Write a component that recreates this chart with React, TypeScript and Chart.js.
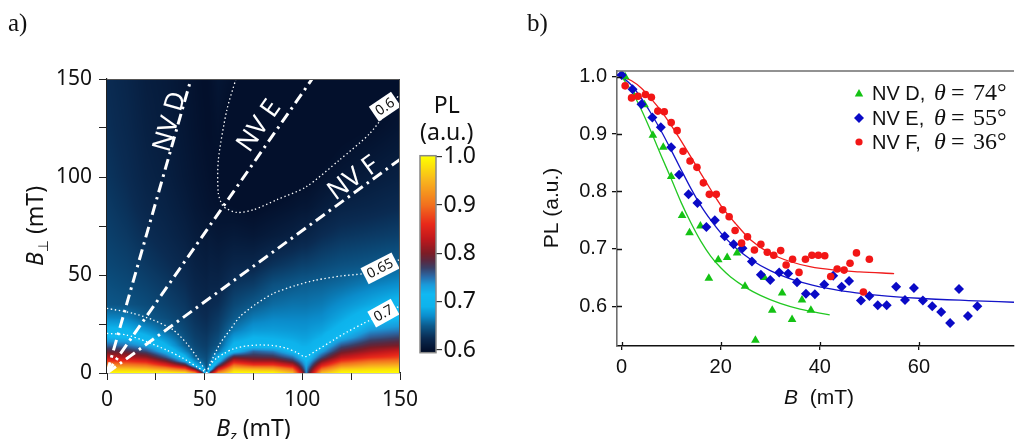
import React, { useEffect, useRef } from "react";
import { Chart, registerables } from "chart.js";

Chart.register(...registerables);

// ================= Panel a : PL map =================
const bzNodes = [0, 10, 20, 30, 40, 45, 49, 51, 53, 57, 65, 75, 85, 95, 100, 102, 104, 110, 120, 135, 150];
const bperpNodes = [0, 2, 4, 6, 8, 11, 14, 18, 22, 28, 35, 45, 55, 70, 85, 100, 125, 150];
// one column per Bz node, values along B_perp nodes
const plByBz = [
  [1.0, 0.965, 0.915, 0.87, 0.83, 0.79, 0.755, 0.72, 0.695, 0.668, 0.648, 0.644, 0.64, 0.636, 0.633, 0.63, 0.627, 0.625],
  [1.0, 0.962, 0.912, 0.865, 0.825, 0.785, 0.75, 0.716, 0.692, 0.666, 0.646, 0.641, 0.637, 0.632, 0.628, 0.625, 0.622, 0.62],
  [1.0, 0.955, 0.9, 0.85, 0.81, 0.765, 0.73, 0.697, 0.674, 0.65, 0.642, 0.637, 0.632, 0.626, 0.621, 0.618, 0.615, 0.613],
  [1.0, 0.93, 0.855, 0.8, 0.76, 0.718, 0.693, 0.672, 0.655, 0.643, 0.637, 0.632, 0.627, 0.621, 0.617, 0.614, 0.611, 0.61],
  [0.99, 0.885, 0.79, 0.725, 0.695, 0.668, 0.652, 0.645, 0.64, 0.635, 0.631, 0.626, 0.621, 0.615, 0.611, 0.608, 0.606, 0.605],
  [0.93, 0.79, 0.695, 0.672, 0.652, 0.645, 0.64, 0.636, 0.633, 0.629, 0.625, 0.62, 0.616, 0.611, 0.607, 0.605, 0.603, 0.602],
  [0.78, 0.69, 0.665, 0.652, 0.645, 0.64, 0.636, 0.633, 0.63, 0.626, 0.622, 0.618, 0.614, 0.609, 0.605, 0.603, 0.601, 0.6],
  [0.655, 0.649, 0.646, 0.644, 0.642, 0.638, 0.635, 0.632, 0.629, 0.625, 0.621, 0.617, 0.613, 0.608, 0.604, 0.602, 0.6, 0.6],
  [0.8, 0.705, 0.675, 0.66, 0.652, 0.645, 0.64, 0.636, 0.632, 0.628, 0.624, 0.619, 0.615, 0.609, 0.603, 0.601, 0.6, 0.601],
  [0.93, 0.84, 0.76, 0.715, 0.69, 0.66, 0.647, 0.642, 0.637, 0.632, 0.626, 0.619, 0.614, 0.607, 0.602, 0.598, 0.602, 0.605],
  [1.0, 0.96, 0.9, 0.84, 0.79, 0.712, 0.695, 0.678, 0.662, 0.649, 0.64, 0.63, 0.62, 0.609, 0.6, 0.595, 0.595, 0.6],
  [1.0, 0.95, 0.87, 0.815, 0.785, 0.755, 0.702, 0.69, 0.677, 0.663, 0.649, 0.634, 0.621, 0.607, 0.598, 0.591, 0.588, 0.59],
  [1.0, 0.945, 0.87, 0.815, 0.78, 0.745, 0.7, 0.688, 0.678, 0.668, 0.657, 0.645, 0.629, 0.611, 0.601, 0.593, 0.587, 0.587],
  [0.96, 0.9, 0.83, 0.78, 0.75, 0.71, 0.694, 0.684, 0.676, 0.668, 0.66, 0.649, 0.634, 0.615, 0.604, 0.596, 0.588, 0.587],
  [0.82, 0.78, 0.755, 0.735, 0.712, 0.697, 0.688, 0.681, 0.675, 0.668, 0.66, 0.651, 0.637, 0.618, 0.606, 0.598, 0.59, 0.588],
  [0.74, 0.735, 0.725, 0.715, 0.703, 0.696, 0.688, 0.681, 0.675, 0.668, 0.66, 0.651, 0.637, 0.618, 0.606, 0.598, 0.59, 0.588],
  [0.8, 0.775, 0.75, 0.73, 0.712, 0.699, 0.69, 0.683, 0.677, 0.669, 0.661, 0.652, 0.638, 0.62, 0.607, 0.599, 0.591, 0.589],
  [0.96, 0.9, 0.845, 0.8, 0.765, 0.73, 0.705, 0.69, 0.681, 0.671, 0.663, 0.653, 0.641, 0.625, 0.611, 0.602, 0.592, 0.589],
  [1.0, 0.965, 0.915, 0.87, 0.83, 0.79, 0.76, 0.72, 0.697, 0.684, 0.672, 0.657, 0.645, 0.63, 0.617, 0.606, 0.597, 0.592],
  [1.0, 0.975, 0.94, 0.9, 0.86, 0.82, 0.79, 0.76, 0.735, 0.705, 0.685, 0.665, 0.648, 0.633, 0.62, 0.611, 0.6, 0.595],
  [1.0, 0.98, 0.945, 0.91, 0.875, 0.84, 0.8, 0.77, 0.745, 0.715, 0.699, 0.672, 0.652, 0.636, 0.624, 0.615, 0.605, 0.598],
];
const axisTicksA = [0, 25, 50, 75, 100, 125, 150];
const axisLabelsA = ["0", "", "50", "", "100", "", "150"];
const colorbarTicks = [0.6, 0.7, 0.8, 0.9, 1.0];

// NV axis lines (B_z, B_perp) end points
const nvLineD = [[0, 0], [43, 150]];
const nvLineE = [[0, 0], [105, 150]];
const nvLineF = [[0, 0], [150, 109]];

// iso-PL contours
const contour06 = [[66, 150], [61.3, 134], [57, 108.7], [57, 91.7], [59.6, 85], [66.4, 81.9], [75, 83.3], [87, 88.4], [102, 95], [119, 108.7], [134.7, 122.4], [150, 142.5]];
const contour065Left = [[0, 33], [13.5, 30.4], [23.7, 27], [34, 21.9], [40.8, 15.1], [45.9, 8.3], [50.2, 1.5], [51, 0]];
const contour065Right = [[51, 0], [53, 5], [57.9, 15.1], [63, 22], [68, 28.7], [76, 35], [85, 40.5], [96, 44.5], [107, 47.4], [120, 49.5], [131, 50.7], [140, 53.3], [150, 58]];
const contour07Left = [[0, 20.2], [10, 19.4], [20.3, 16], [30.5, 11.7], [39, 7.5], [45.9, 3.2], [50.2, 0.7], [51, 0]];
const contour07Right = [[51, 0], [52.7, 4], [56, 7.5], [60, 10], [64.7, 12.3], [71.5, 13.8], [78.3, 14.3], [85, 14], [92, 12.6], [97, 10.5], [101.4, 8.3], [108, 12], [115.9, 16.8], [123, 21], [131.3, 25.3], [140, 29.5], [150, 34.2]];

const nvLabelText = ["NV D", "NV E", "NV F"];
const contourLabelText = ["0.6", "0.65", "0.7"];

// ================= Panel b : measured PL vs B =================
const xTicksB = [0, 20, 40, 60];
const yTicksB = [0.6, 0.7, 0.8, 0.9, 1.0];

const nvD_B = [0.7, 2.6, 4.6, 6.3, 8.4, 10.0, 12.2, 13.7, 15.9, 17.6, 19.5, 21.3, 23.3, 24.9, 27.0, 28.8, 30.4, 32.4, 34.4, 36.4, 38.2];
const nvD_PL = [1.0, 0.965, 0.951, 0.898, 0.877, 0.826, 0.758, 0.728, 0.74, 0.649, 0.681, 0.685, 0.693, 0.635, 0.541, 0.65, 0.593, 0.623, 0.577, 0.611, 0.593];

const nvE_B = [0, 2.2, 4.0, 6.2, 7.9, 10.0, 11.6, 13.5, 15.3, 17.1, 18.8, 20.8, 22.6, 24.4, 26.3, 28.1, 30.0, 31.8, 33.6, 35.4, 37.2, 39.0, 40.9, 42.7, 44.4, 45.9, 48.3, 50.0, 51.7, 53.5, 55.4, 57.2, 59.0, 60.8, 62.7, 64.5, 66.3, 68.1, 69.9, 71.8];
const nvE_PL = [1.003, 0.978, 0.952, 0.929, 0.912, 0.877, 0.829, 0.795, 0.78, 0.738, 0.75, 0.722, 0.708, 0.701, 0.678, 0.655, 0.646, 0.659, 0.657, 0.642, 0.622, 0.621, 0.638, 0.653, 0.634, 0.644, 0.61, 0.618, 0.602, 0.602, 0.634, 0.611, 0.632, 0.61, 0.6, 0.59, 0.571, 0.63, 0.583, 0.6];

const nvF_B = [0.7, 2.0, 3.3, 4.8, 6.0, 7.3, 8.6, 10.0, 11.2, 12.4, 13.8, 15.2, 16.5, 17.7, 19.1, 20.4, 21.7, 22.9, 24.2, 25.4, 26.8, 28.1, 29.4, 30.7, 32.1, 33.2, 34.5, 35.8, 37.1, 38.4, 39.7, 41.0, 42.2, 43.5, 44.9, 46.1, 47.4, 48.8, 50.0];
const nvF_PL = [0.984, 0.963, 0.966, 0.969, 0.964, 0.94, 0.939, 0.92, 0.906, 0.87, 0.853, 0.842, 0.815, 0.795, 0.795, 0.768, 0.756, 0.732, 0.71, 0.721, 0.698, 0.708, 0.694, 0.689, 0.697, 0.672, 0.682, 0.659, 0.682, 0.689, 0.689, 0.688, 0.652, 0.665, 0.663, 0.675, 0.693, 0.625, 0.682];

const fitD_B = [0, 2, 4, 6, 8, 10, 12, 14, 16, 18, 20, 22, 25, 28, 32, 36, 42];
const fitD_PL = [1.0, 0.975, 0.942, 0.903, 0.862, 0.822, 0.781, 0.745, 0.713, 0.687, 0.667, 0.651, 0.633, 0.619, 0.605, 0.595, 0.585];
const fitE_B = [0, 2, 4, 6, 8, 10, 12, 14, 16, 18, 20, 23, 26, 30, 35, 40, 46, 52, 60, 70, 79.2];
const fitE_PL = [1.0, 0.985, 0.962, 0.935, 0.905, 0.872, 0.838, 0.805, 0.775, 0.75, 0.728, 0.702, 0.682, 0.662, 0.645, 0.634, 0.625, 0.619, 0.614, 0.61, 0.607];
const fitF_B = [0, 2, 4, 6, 8, 10, 12, 14, 16, 18, 20, 23, 26, 30, 34, 38, 43, 48, 55];
const fitF_PL = [1.0, 0.993, 0.98, 0.961, 0.94, 0.915, 0.888, 0.86, 0.831, 0.803, 0.776, 0.744, 0.716, 0.692, 0.678, 0.669, 0.663, 0.66, 0.657];

const legendNames = ["NV D,", "NV E,", "NV F,"];
const legendAngles = ["74°", "55°", "36°"];

// ================= styling =================
const SANS_A = '"Noto Sans", "Open Sans", sans-serif';
const SANS_B = '"Liberation Sans", Arial, sans-serif';
const SERIF = '"Liberation Serif", "DejaVu Serif", serif';
const GREEN = "#14c214";
const BLUE = "#0a0ac6";
const RED = "#f21616";
const GREEN_L = "#22c822";
const BLUE_L = "#1414c8";
const RED_L = "#f01c1c";

const cmapStops: [number, string][] = [
  [0.6, "#03102c"],
  [0.625, "#0a2b52"],
  [0.65, "#0c5a8c"],
  [0.67, "#0b8ccb"],
  [0.69, "#0db3ec"],
  [0.715, "#10b9f2"],
  [0.735, "#1a9ada"],
  [0.752, "#2a6aa8"],
  [0.77, "#3a3f66"],
  [0.785, "#5a2840"],
  [0.8, "#7c1c26"],
  [0.83, "#c0181c"],
  [0.86, "#e8281a"],
  [0.9, "#f2701e"],
  [0.95, "#f8b41e"],
  [1.0, "#ffff00"],
];

function hex(h: string) {
  return [parseInt(h.slice(1, 3), 16), parseInt(h.slice(3, 5), 16), parseInt(h.slice(5, 7), 16)];
}
const stopRgb = cmapStops.map(([v, c]) => [v, hex(c)] as [number, number[]]);
function plRgb(v: number): number[] {
  if (v <= stopRgb[0][0]) return stopRgb[0][1];
  const n = stopRgb.length;
  if (v >= stopRgb[n - 1][0]) return stopRgb[n - 1][1];
  let i = 0;
  while (v > stopRgb[i + 1][0]) i++;
  const [v0, c0] = stopRgb[i];
  const [v1, c1] = stopRgb[i + 1];
  const t = (v - v0) / (v1 - v0);
  return [0, 1, 2].map((k) => Math.round(c0[k] + (c1[k] - c0[k]) * t));
}
function bracket(nodes: number[], v: number): [number, number] {
  const n = nodes.length;
  if (v <= nodes[0]) return [0, 0];
  if (v >= nodes[n - 1]) return [n - 2, 1];
  let i = 0;
  while (v > nodes[i + 1]) i++;
  return [i, (v - nodes[i]) / (nodes[i + 1] - nodes[i])];
}
function plAt(bz: number, bp: number) {
  const [i, tx] = bracket(bzNodes, bz);
  const [j, ty] = bracket(bperpNodes, bp);
  const a = plByBz[i][j], b = plByBz[i + 1][j], c = plByBz[i][j + 1], d = plByBz[i + 1][j + 1];
  return a * (1 - tx) * (1 - ty) + b * tx * (1 - ty) + c * (1 - tx) * ty + d * tx * ty;
}
const pts = (arr: number[][]) => arr.map(([x, y]) => ({ x, y }));
const zip = (xs: number[], ys: number[]) => xs.map((x, i) => ({ x, y: ys[i] }));

function drawRuns(ctx: CanvasRenderingContext2D, runs: { t: string; f: string; dy?: number }[], x: number, y: number) {
  let total = 0;
  for (const r of runs) { ctx.font = r.f; total += ctx.measureText(r.t).width; }
  let cx = x - total / 2;
  ctx.textAlign = "left";
  for (const r of runs) {
    ctx.font = r.f;
    ctx.fillText(r.t, cx, y + (r.dy || 0));
    cx += ctx.measureText(r.t).width;
  }
}

// ---------- panel a plugins ----------
const heatmapPlugin = {
  id: "heatmap",
  beforeDatasetsDraw(chart: any) {
    const { ctx, chartArea: a, scales } = chart;
    const xs = scales.x, ys = scales.y;
    const w = Math.round(a.right - a.left), h = Math.round(a.bottom - a.top);
    const off = document.createElement("canvas");
    off.width = w; off.height = h;
    const octx = off.getContext("2d")!;
    const img = octx.createImageData(w, h);
    const xv = Array.from({ length: w }, (_, px) => xs.getValueForPixel(a.left + px + 0.5));
    for (let py = 0; py < h; py++) {
      const yv = ys.getValueForPixel(a.top + py + 0.5);
      for (let px = 0; px < w; px++) {
        const c = plRgb(plAt(xv[px], yv));
        const k = (py * w + px) * 4;
        img.data[k] = c[0]; img.data[k + 1] = c[1]; img.data[k + 2] = c[2]; img.data[k + 3] = 255;
      }
    }
    octx.putImageData(img, 0, 0);
    ctx.drawImage(off, a.left, a.top);
  },
  afterDatasetsDraw(chart: any) {
    const { ctx, chartArea: a, scales } = chart;
    const xs = scales.x, ys = scales.y;
    // NV labels along the lines
    const nvPos = [[32.4, 128.2, -74], [78.0, 126.0, -55], [126.2, 99.2, -36]];
    ctx.save();
    ctx.fillStyle = "#ffffff";
    ctx.font = `26px ${SANS_A}`;
    ctx.textAlign = "center";
    ctx.textBaseline = "middle";
    nvPos.forEach(([bz, bp, ang], i) => {
      ctx.save();
      ctx.translate(xs.getPixelForValue(bz), ys.getPixelForValue(bp));
      ctx.rotate((ang * Math.PI) / 180);
      ctx.fillText(nvLabelText[i], 0, 0);
      ctx.restore();
    });
    // contour labels
    const cPos = [[142.3, 135.9, -34], [139.8, 53.4, -27], [141.5, 30.5, -29]];
    ctx.font = `14px ${SANS_A}`;
    cPos.forEach(([bz, bp, ang], i) => {
      ctx.save();
      ctx.translate(xs.getPixelForValue(bz), ys.getPixelForValue(bp));
      ctx.rotate((ang * Math.PI) / 180);
      const tw = ctx.measureText(contourLabelText[i]).width;
      ctx.fillStyle = "#ffffff";
      ctx.fillRect(-tw / 2 - 3.5, -9, tw + 7, 18);
      ctx.fillStyle = "#111";
      ctx.fillText(contourLabelText[i], 0, 0.5);
      ctx.restore();
    });
    // frame top/right
    ctx.strokeStyle = "#555";
    ctx.lineWidth = 1;
    ctx.beginPath();
    ctx.moveTo(a.left, a.top + 0.5);
    ctx.lineTo(a.right - 0.5, a.top + 0.5);
    ctx.lineTo(a.right - 0.5, a.bottom);
    ctx.stroke();
    ctx.restore();
  },
  afterDraw(chart: any) {
    const { ctx } = chart;
    ctx.save();
    ctx.fillStyle = "#111";
    ctx.textBaseline = "alphabetic";
    // panel letter
    ctx.font = `25px ${SERIF}`;
    ctx.textAlign = "left";
    ctx.fillText("a)", 8, 31);
    // x title
    drawRuns(ctx, [
      { t: "B", f: `italic 23px ${SANS_A}` },
      { t: "z", f: `italic 15px ${SANS_A}`, dy: 5 },
      { t: " (mT)", f: `23px ${SANS_A}` },
    ], 253.5, 436);
    // y title
    ctx.save();
    ctx.translate(43, 226);
    ctx.rotate(-Math.PI / 2);
    drawRuns(ctx, [
      { t: "B", f: `italic 23px ${SANS_A}` },
      { t: "⊥", f: `14px "DejaVu Sans", sans-serif`, dy: 5 },
      { t: " (mT)", f: `23px ${SANS_A}` },
    ], 0, 0);
    ctx.restore();
    // colorbar title
    ctx.font = `23px ${SANS_A}`;
    ctx.textAlign = "center";
    ctx.textBaseline = "middle";
    ctx.fillText("PL", 446.7, 106.7);
    ctx.fillText("(a.u.)", 446.7, 133.3);
    ctx.restore();
  },
};

const colorbarPlugin = {
  id: "colorbar",
  beforeDatasetsDraw(chart: any) {
    const { ctx, chartArea: a, scales } = chart;
    const ys = scales.y;
    for (let py = Math.floor(a.top); py < Math.ceil(a.bottom); py++) {
      const c = plRgb(ys.getValueForPixel(py + 0.5));
      ctx.fillStyle = `rgb(${c[0]},${c[1]},${c[2]})`;
      ctx.fillRect(a.left, py, a.right - a.left, 1);
    }
    ctx.strokeStyle = "#888";
    ctx.lineWidth = 1.5;
    ctx.strokeRect(a.left, a.top, a.right - a.left, a.bottom - a.top);
  },
};

// ---------- panel b plugin ----------
const OFFB = 510;
const panelBPlugin = {
  id: "panelB",
  afterDraw(chart: any) {
    const { ctx, chartArea: a, scales } = chart;
    const xs = scales.x, ys = scales.y;
    ctx.save();
    // top border
    ctx.strokeStyle = "#6e6e6e";
    ctx.lineWidth = 1.6;
    ctx.beginPath();
    ctx.moveTo(a.left - 0.8, a.top);
    ctx.lineTo(a.right, a.top);
    ctx.stroke();
    // inward tick parts
    ctx.strokeStyle = "#111";
    ctx.lineWidth = 1.3;
    ctx.beginPath();
    xTicksB.forEach((v) => {
      const px = Math.round(xs.getPixelForValue(v)) + 0.5;
      ctx.moveTo(px, a.bottom);
      ctx.lineTo(px, a.bottom - 4);
    });
    yTicksB.forEach((v) => {
      const py = Math.round(ys.getPixelForValue(v)) + 0.5;
      ctx.moveTo(a.left, py);
      ctx.lineTo(a.left + 5, py);
    });
    ctx.stroke();
    // panel letter
    ctx.fillStyle = "#111";
    ctx.font = `25px ${SERIF}`;
    ctx.textAlign = "left";
    ctx.textBaseline = "alphabetic";
    ctx.fillText("b)", 527 - OFFB, 31);
    // axis titles
    drawRuns(ctx, [
      { t: "B", f: `italic 21px ${SANS_B}` },
      { t: "  (mT)", f: `21px ${SANS_B}` },
    ], 819 - OFFB, 404);
    ctx.save();
    ctx.translate(558 - OFFB, 208);
    ctx.rotate(-Math.PI / 2);
    drawRuns(ctx, [{ t: "PL (a.u.)", f: `21px ${SANS_B}` }], 0, 0);
    ctx.restore();
    // legend
    const rowsY = [100, 124.5, 148.5];
    const colors = [GREEN, BLUE, RED];
    rowsY.forEach((by, i) => {
      const cy = by - 6.5;
      const cx = 859 - OFFB;
      ctx.fillStyle = colors[i];
      ctx.beginPath();
      if (i === 0) {
        ctx.moveTo(cx, cy - 4.5); ctx.lineTo(cx + 4.2, cy + 3); ctx.lineTo(cx - 4.2, cy + 3);
      } else if (i === 1) {
        ctx.moveTo(cx, cy - 5); ctx.lineTo(cx + 5, cy); ctx.lineTo(cx, cy + 5); ctx.lineTo(cx - 5, cy);
      } else {
        ctx.arc(cx, cy, 3.6, 0, Math.PI * 2);
      }
      ctx.closePath();
      ctx.fill();
      ctx.fillStyle = "#111";
      ctx.textAlign = "left";
      ctx.font = `20px ${SANS_B}`;
      ctx.fillText(legendNames[i], 872 - OFFB, by);
      ctx.font = `italic 24px ${SERIF}`;
      ctx.fillText("θ", 934 - OFFB, by);
      ctx.font = `24px ${SERIF}`;
      ctx.fillText("=", 951 - OFFB, by);
      ctx.fillText(legendAngles[i], 973 - OFFB, by);
    });
    ctx.restore();
  },
};

export default function App() {
  const aRef = useRef<HTMLCanvasElement>(null);
  const bRef = useRef<HTMLCanvasElement>(null);
  const cRef = useRef<HTMLCanvasElement>(null);

  useEffect(() => {
    const lineDs = (data: number[][], dash: number[], width: number) => ({
      data: pts(data),
      showLine: true,
      borderColor: "#ffffff",
      borderWidth: width,
      borderDash: dash,
      pointRadius: 0,
      tension: 0.25,
      fill: false,
    });
    const dot = [1.4, 2.6];
    const dashDot = [11, 5, 2.5, 5];

    const chartA = new Chart(aRef.current!, {
      type: "scatter",
      data: {
        datasets: [
          lineDs(contour06, dot, 1.3),
          lineDs(contour065Left, dot, 1.3),
          lineDs(contour065Right, dot, 1.3),
          lineDs(contour07Left, dot, 1.3),
          lineDs(contour07Right, dot, 1.3),
          { ...lineDs(nvLineD, dashDot, 3), tension: 0 },
          { ...lineDs(nvLineE, dashDot, 3), tension: 0 },
          { ...lineDs(nvLineF, dashDot, 3), tension: 0 },
        ],
      },
      options: {
        responsive: false,
        animation: false,
        layout: { padding: { left: 0, top: 79, right: 110, bottom: 0 } },
        plugins: { legend: { display: false }, tooltip: { enabled: false } },
        scales: {
          x: {
            type: "linear", min: 0, max: 150,
            afterFit: (s: any) => { s.height = 66; },
            afterBuildTicks: (s: any) => { s.ticks = axisTicksA.map((v) => ({ value: v })); },
            grid: { drawOnChartArea: false, drawTicks: true, tickLength: 7, color: "#222", lineWidth: 1 },
            border: { display: true, color: "#222", width: 1.2 },
            ticks: {
              autoSkip: false, maxRotation: 0, padding: 7, color: "#111",
              font: { family: SANS_A, size: 21 },
              callback: (_v: any, i: number) => axisLabelsA[i],
            },
          },
          y: {
            type: "linear", min: 0, max: 150,
            afterFit: (s: any) => { s.width = 107; },
            afterBuildTicks: (s: any) => { s.ticks = axisTicksA.map((v) => ({ value: v })); },
            grid: { drawOnChartArea: false, drawTicks: true, tickLength: 8, color: "#222", lineWidth: 1 },
            border: { display: true, color: "#222", width: 1.2 },
            ticks: {
              autoSkip: false, padding: 7, color: "#111",
              font: { family: SANS_A, size: 21 },
              callback: (_v: any, i: number) => axisLabelsA[i],
            },
          },
        },
      },
      plugins: [heatmapPlugin],
    } as any);

    const chartC = new Chart(cRef.current!, {
      type: "scatter",
      data: { datasets: [{ data: [] }] },
      options: {
        responsive: false,
        animation: false,
        layout: { padding: { left: 20, top: 15.7, right: 0, bottom: 17.3 } },
        plugins: { legend: { display: false }, tooltip: { enabled: false } },
        scales: {
          x: { display: false, min: 0, max: 1 },
          y: {
            type: "linear", position: "right", min: 0.5944, max: 1.0021,
            afterFit: (s: any) => { s.width = 64; },
            afterBuildTicks: (s: any) => { s.ticks = colorbarTicks.map((v) => ({ value: v })); },
            grid: { drawOnChartArea: false, drawTicks: true, tickLength: 6, color: "#333", lineWidth: 1.2 },
            border: { display: false },
            ticks: {
              padding: 1.5, color: "#111",
              font: { family: SANS_A, size: 23 },
              callback: (v: any) => Number(v).toFixed(1),
            },
          },
        },
      },
      plugins: [colorbarPlugin],
    } as any);

    const fitDs = (xs: number[], ys: number[], color: string) => ({
      data: zip(xs, ys),
      showLine: true,
      borderColor: color,
      borderWidth: 1.3,
      pointRadius: 0,
      cubicInterpolationMode: "monotone",
      order: 2,
    });
    const ptDs = (xs: number[], ys: number[], color: string, style: string, r: number) => ({
      data: zip(xs, ys),
      showLine: false,
      backgroundColor: color,
      borderColor: color,
      borderWidth: 0,
      pointStyle: style,
      pointRadius: r,
      order: 1,
    });

    const chartB = new Chart(bRef.current!, {
      type: "scatter",
      data: {
        datasets: [
          fitDs(fitD_B, fitD_PL, GREEN_L),
          fitDs(fitE_B, fitE_PL, BLUE_L),
          fitDs(fitF_B, fitF_PL, RED_L),
          ptDs(nvF_B, nvF_PL, RED, "circle", 3.8),
          ptDs(nvE_B, nvE_PL, BLUE, "rectRot", 5),
          ptDs(nvD_B, nvD_PL, GREEN, "triangle", 5),
        ],
      },
      options: {
        responsive: false,
        animation: false,
        layout: { padding: { left: 0, top: 71, right: 0, bottom: 0 } },
        plugins: { legend: { display: false }, tooltip: { enabled: false } },
        scales: {
          x: {
            type: "linear", min: -0.94, max: 79.2,
            afterFit: (s: any) => { s.height = 93; },
            afterBuildTicks: (s: any) => { s.ticks = xTicksB.map((v) => ({ value: v })); },
            grid: { drawOnChartArea: false, drawTicks: true, tickLength: 4, color: "#111", lineWidth: 1.3 },
            border: { display: true, color: "#111", width: 1.6 },
            ticks: {
              autoSkip: false, maxRotation: 0, padding: 5, color: "#111",
              font: { family: SANS_B, size: 20 },
              callback: (v: any) => String(v),
            },
          },
          y: {
            type: "linear", min: 0.5308, max: 1.0099,
            afterFit: (s: any) => { s.width = 107; },
            afterBuildTicks: (s: any) => { s.ticks = yTicksB.map((v) => ({ value: v })); },
            grid: { drawOnChartArea: false, drawTicks: true, tickLength: 5, color: "#111", lineWidth: 1.3 },
            border: { display: true, color: "#6e6e6e", width: 1.6 },
            ticks: {
              autoSkip: false, padding: 5, color: "#111",
              font: { family: SANS_B, size: 20 },
              callback: (v: any) => Number(v).toFixed(1),
            },
          },
        },
      },
      plugins: [panelBPlugin],
    } as any);

    return () => {
      chartA.destroy();
      chartB.destroy();
      chartC.destroy();
    };
  }, []);

  return (
    <div style={{ position: "fixed", left: 0, top: 0, width: 1019, height: 439, background: "#fff", overflow: "hidden" }}>
      <canvas ref={aRef} width={510} height={439} style={{ position: "absolute", left: 0, top: 0, width: 510, height: 439 }} />
      <canvas ref={cRef} width={100} height={230} style={{ position: "absolute", left: 400, top: 140, width: 100, height: 230 }} />
      <canvas ref={bRef} width={509} height={439} style={{ position: "absolute", left: 510, top: 0, width: 509, height: 439 }} />
    </div>
  );
}
